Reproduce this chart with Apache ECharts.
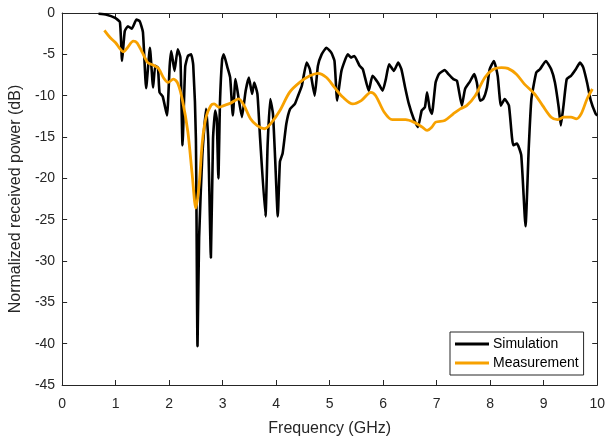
<!DOCTYPE html>
<html>
<head>
<meta charset="utf-8">
<script src="https://cdn.jsdelivr.net/npm/echarts@6/dist/echarts.min.js"></script>
<style>
  html, body { margin: 0; padding: 0; background: #fff; }
  #chart { width: 608px; height: 442px; }
</style>
</head>
<body>
<div id="chart"></div>
<script>
// Simulated received power: [frequency GHz, power dB]
const simulation = [
  [0.68, -0.1], [0.83, -0.2], [0.99, -0.6], [1.08, -1.1], [1.12, -5.8], [1.17, -2.2],
  [1.23, -1.6], [1.30, -1.9], [1.39, -0.8], [1.45, -1.0], [1.51, -2.3], [1.57, -9.1],
  [1.64, -4.2], [1.70, -9.0], [1.74, -6.4], [1.79, -6.6], [1.82, -9.6], [1.88, -10.1],
  [1.96, -12.4], [2.01, -6.4], [2.04, -4.6], [2.10, -7.0], [2.16, -4.4], [2.21, -5.4],
  [2.25, -16.0], [2.30, -6.5], [2.35, -5.2], [2.41, -5.0], [2.45, -6.3], [2.50, -15.2],
  [2.53, -40.3], [2.56, -27.2], [2.62, -17.2], [2.69, -11.6], [2.73, -15.2], [2.78, -29.6],
  [2.82, -15.2], [2.86, -11.8], [2.89, -12.8], [2.92, -20.0], [2.95, -10.8], [2.99, -5.6],
  [3.02, -5.0], [3.09, -6.6], [3.14, -7.8], [3.19, -12.4], [3.24, -8.0], [3.30, -10.4],
  [3.36, -12.6], [3.43, -9.4], [3.49, -7.8], [3.55, -9.8], [3.59, -8.4], [3.65, -9.8],
  [3.70, -15.2], [3.80, -24.6], [3.84, -16.0], [3.89, -10.4], [3.94, -12.2], [3.98, -17.5],
  [4.03, -24.6], [4.07, -18.0], [4.12, -17.0], [4.19, -13.4], [4.26, -11.6], [4.35, -11.0],
  [4.41, -10.0], [4.48, -8.8], [4.57, -6.0], [4.63, -6.8], [4.72, -10.0], [4.78, -6.4],
  [4.85, -5.0], [4.94, -4.2], [5.03, -4.8], [5.09, -5.8], [5.14, -10.6], [5.22, -7.0],
  [5.34, -5.0], [5.40, -5.4], [5.46, -5.2], [5.56, -6.4], [5.62, -6.8], [5.73, -9.4],
  [5.80, -7.6], [5.90, -8.4], [5.99, -9.4], [6.05, -8.0], [6.11, -6.2], [6.20, -7.0],
  [6.28, -6.0], [6.34, -6.8], [6.41, -9.0], [6.48, -11.0], [6.57, -12.8], [6.65, -13.8],
  [6.72, -11.8], [6.78, -11.4], [6.82, -9.6], [6.87, -11.6], [6.91, -12.2], [6.98, -8.4],
  [7.04, -7.4], [7.15, -6.9], [7.22, -7.4], [7.31, -8.0], [7.38, -8.2], [7.47, -11.2],
  [7.53, -9.2], [7.62, -8.3], [7.70, -7.4], [7.75, -8.4], [7.81, -10.6], [7.87, -10.4],
  [7.94, -9.0], [7.99, -6.8], [8.07, -5.8], [8.14, -7.6], [8.20, -11.2], [8.27, -10.4],
  [8.35, -11.2], [8.43, -16.0], [8.50, -15.8], [8.58, -17.2], [8.66, -25.8], [8.72, -16.4],
  [8.77, -10.4], [8.86, -7.2], [8.93, -6.8], [9.04, -5.8], [9.14, -6.8], [9.21, -8.4],
  [9.28, -11.4], [9.32, -13.6], [9.37, -11.2], [9.43, -8.0], [9.51, -7.6], [9.60, -6.8],
  [9.68, -6.0], [9.74, -6.6], [9.81, -8.4], [9.88, -10.6], [9.97, -12.2], [10.0, -12.4]
];

// Measured received power: [frequency GHz, power dB]
const measurement = [
  [0.79, -2.1], [0.90, -3.0], [1.00, -3.6], [1.08, -4.3], [1.14, -4.7], [1.22, -4.2],
  [1.33, -3.4], [1.40, -3.6], [1.50, -4.8], [1.60, -6.0], [1.70, -6.3], [1.80, -6.7],
  [1.90, -7.9], [1.98, -8.4], [2.08, -8.0], [2.16, -8.5], [2.25, -10.6], [2.35, -14.4],
  [2.43, -19.5], [2.50, -23.6], [2.56, -20.8], [2.62, -15.6], [2.69, -12.6], [2.78, -11.2],
  [2.84, -11.0], [2.93, -11.4], [3.02, -11.2], [3.15, -10.9], [3.30, -10.4], [3.40, -11.2],
  [3.52, -12.8], [3.64, -13.6], [3.78, -14.0], [3.92, -13.2], [4.07, -11.8], [4.25, -9.6],
  [4.44, -8.4], [4.63, -7.6], [4.78, -7.3], [4.94, -7.8], [5.09, -9.0], [5.25, -10.2],
  [5.43, -11.0], [5.59, -10.6], [5.77, -9.6], [5.86, -10.0], [6.02, -12.0], [6.17, -12.9],
  [6.30, -12.9], [6.42, -12.9], [6.57, -13.2], [6.73, -13.8], [6.82, -14.2], [6.91, -13.8],
  [6.98, -13.2], [7.15, -13.0], [7.31, -12.2], [7.44, -11.6], [7.56, -11.2], [7.72, -10.0],
  [7.90, -7.8], [8.06, -6.8], [8.21, -6.6], [8.33, -6.7], [8.49, -7.4], [8.64, -8.6],
  [8.83, -9.8], [8.98, -11.2], [9.14, -12.6], [9.26, -12.9], [9.38, -12.6], [9.51, -12.6],
  [9.61, -12.8], [9.70, -12.2], [9.81, -10.4], [9.91, -9.2]
];

const seriesNames = ['Simulation', 'Measurement'];
const seriesColors = ['#000000', '#f7a100'];

const xRange = { min: 0, max: 10, interval: 1 };
const yRange = { min: -45, max: 0, interval: 5 };

const FONT = '"Liberation Sans", Arial, sans-serif';
const AXIS_COLOR = '#262626';

const chart = echarts.init(document.getElementById('chart'), null, { renderer: 'canvas' });

const boxAxisLine = { show: true, onZero: false, lineStyle: { color: AXIS_COLOR, width: 1 } };
const innerTicks = { show: true, inside: true, length: 5, lineStyle: { color: AXIS_COLOR } };

chart.setOption({
  animation: false,
  backgroundColor: '#ffffff',
  grid: { left: 60, right: 9, top: 13, bottom: 53, containLabel: false },
  legend: {
    data: seriesNames,
    orient: 'vertical',
    left: 450,
    top: 332,
    backgroundColor: '#ffffff',
    borderColor: AXIS_COLOR,
    borderWidth: 1,
    padding: [5, 5, 5, 5],
    itemWidth: 34,
    itemHeight: 3,
    itemGap: 5,
    icon: 'rect',
    textStyle: { fontFamily: FONT, fontSize: 14, color: '#000', padding: [0, 0, 0, -1] }
  },
  xAxis: [
    {
      type: 'value', position: 'bottom',
      min: xRange.min, max: xRange.max, interval: xRange.interval,
      name: 'Frequency (GHz)', nameLocation: 'middle', nameGap: 36,
      nameTextStyle: { fontFamily: FONT, fontSize: 16, color: AXIS_COLOR },
      axisLine: boxAxisLine, axisTick: innerTicks,
      axisLabel: { fontFamily: FONT, fontSize: 14, color: AXIS_COLOR, margin: 12 },
      splitLine: { show: false }
    },
    {
      type: 'value', position: 'top',
      min: xRange.min, max: xRange.max, interval: xRange.interval,
      axisLine: boxAxisLine, axisTick: innerTicks,
      axisLabel: { show: false }, splitLine: { show: false }
    }
  ],
  yAxis: [
    {
      type: 'value', position: 'left',
      min: yRange.min, max: yRange.max, interval: yRange.interval,
      name: 'Normalized received power (dB)', nameLocation: 'middle', nameGap: 33,
      nameTextStyle: { fontFamily: FONT, fontSize: 16, color: AXIS_COLOR },
      axisLine: boxAxisLine, axisTick: innerTicks,
      axisLabel: { fontFamily: FONT, fontSize: 14, color: AXIS_COLOR, margin: 7 },
      splitLine: { show: false }
    },
    {
      type: 'value', position: 'right',
      min: yRange.min, max: yRange.max, interval: yRange.interval,
      axisLine: boxAxisLine, axisTick: innerTicks,
      axisLabel: { show: false }, splitLine: { show: false }
    }
  ],
  series: [
    {
      name: seriesNames[0], type: 'line', data: simulation,
      showSymbol: false, smooth: 0.15,
      itemStyle: { color: seriesColors[0] },
      lineStyle: { color: seriesColors[0], width: 2.6 },
      z: 3
    },
    {
      name: seriesNames[1], type: 'line', data: measurement,
      showSymbol: false, smooth: 0.3,
      itemStyle: { color: seriesColors[1] },
      lineStyle: { color: seriesColors[1], width: 2.8 },
      z: 4
    }
  ]
});
</script>
</body>
</html>
